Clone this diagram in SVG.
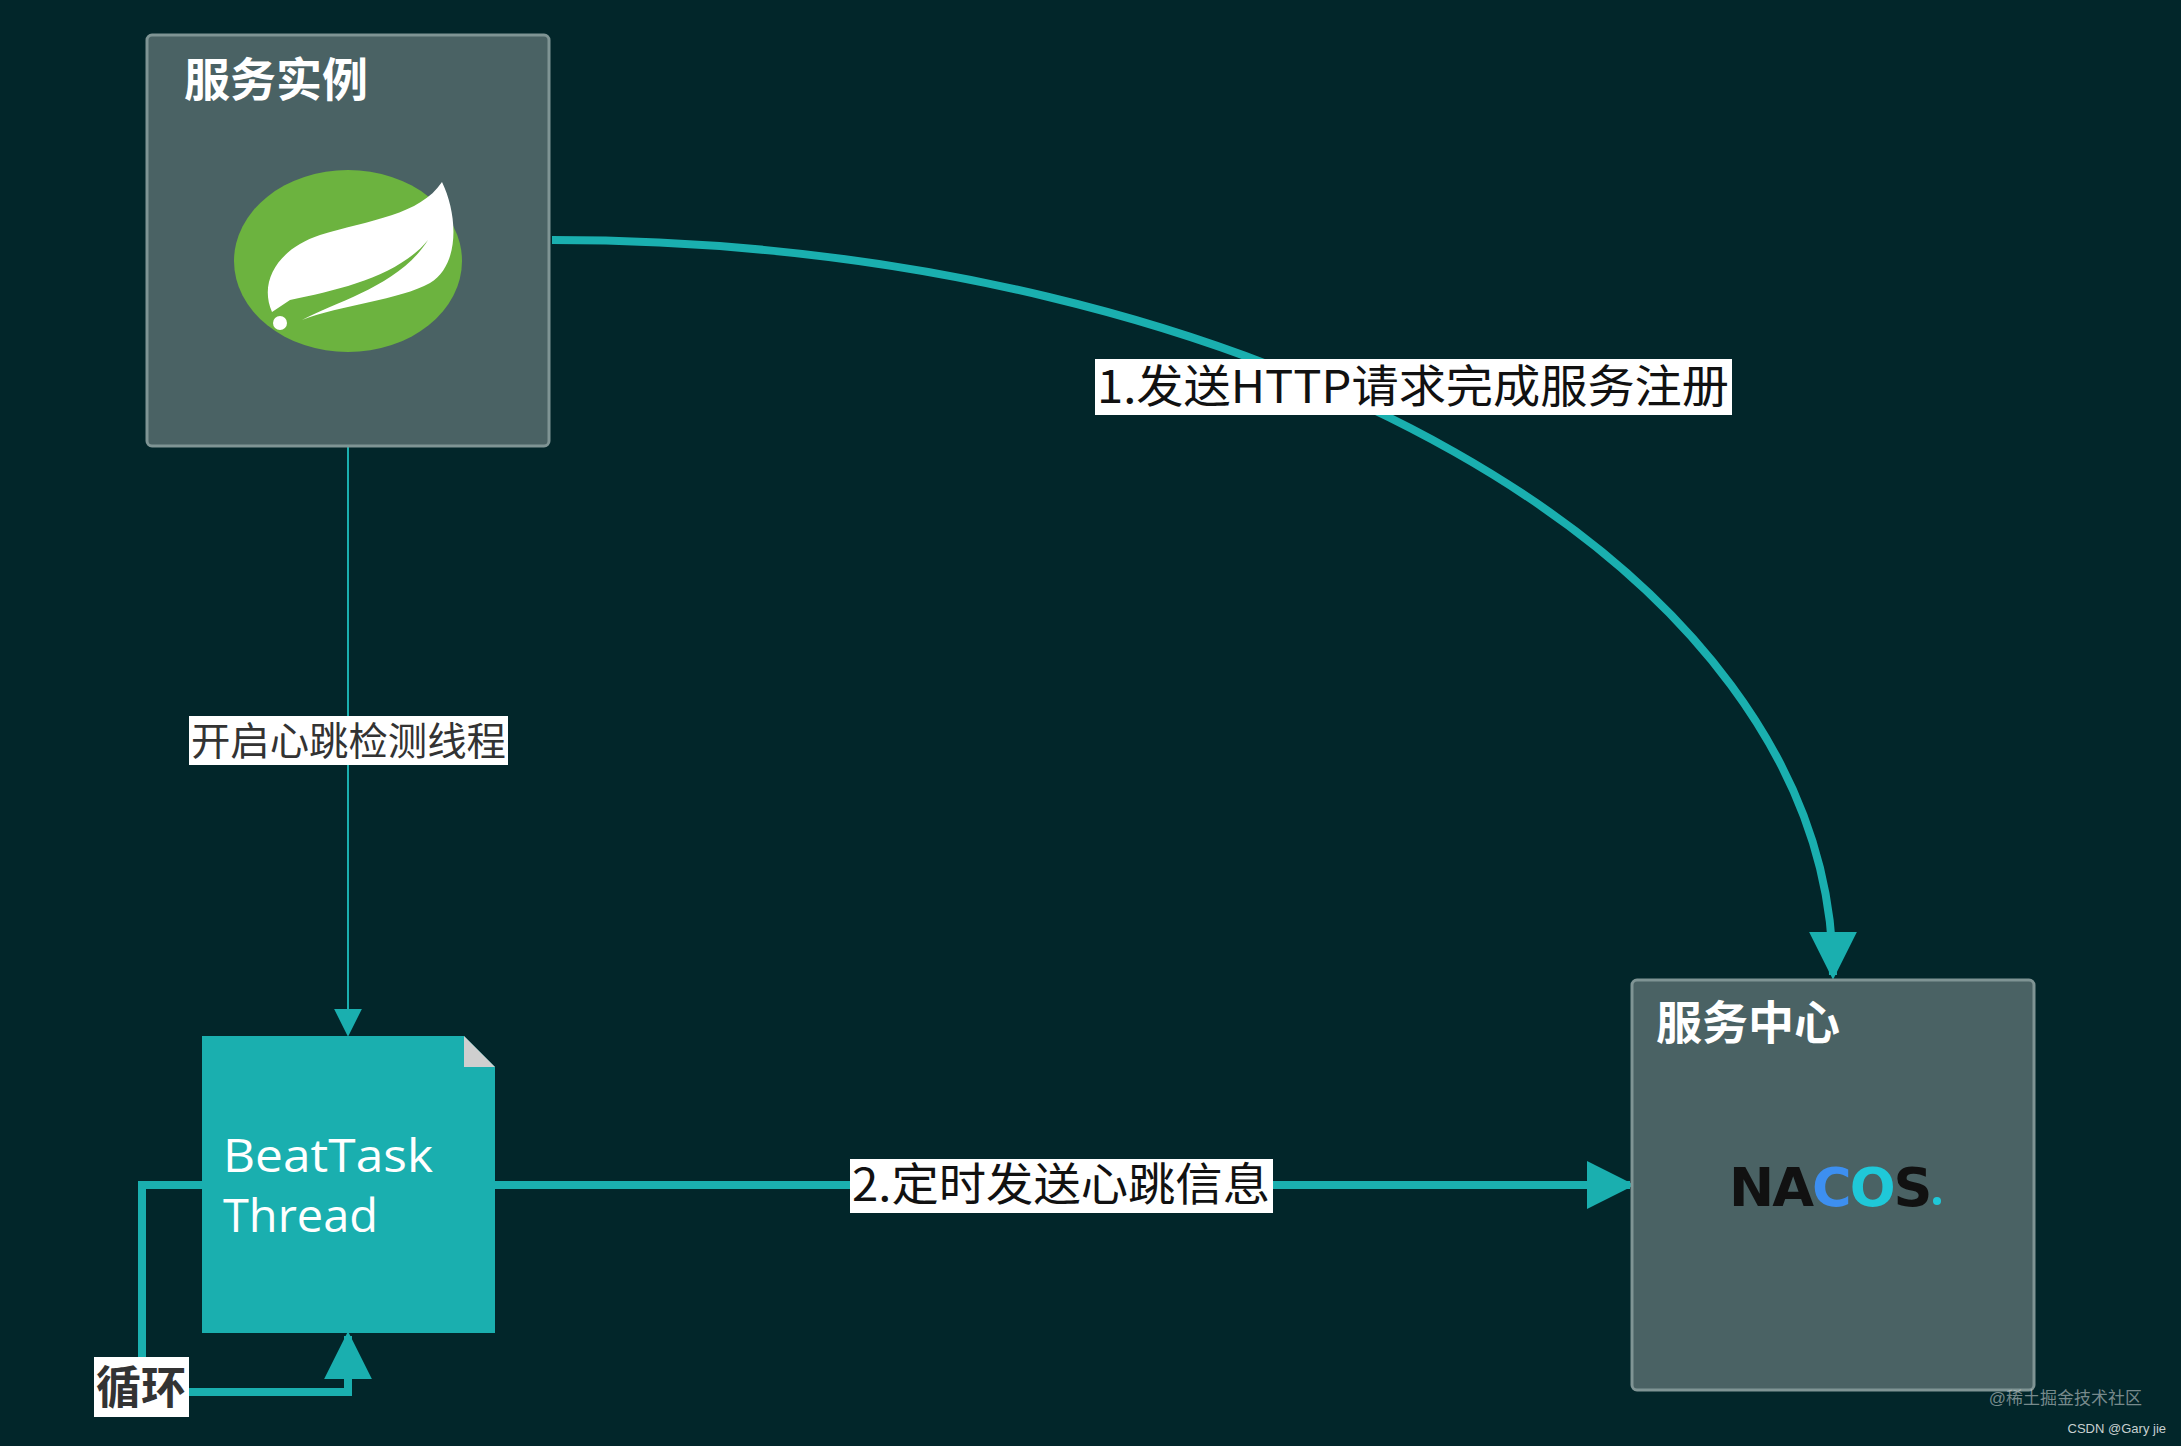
<svg xmlns="http://www.w3.org/2000/svg" width="2181" height="1446" viewBox="0 0 2181 1446">
<style>
.box{fill:#4a6264;stroke:#7f9494;stroke-width:3}
.title{font-family:"Noto Sans CJK SC",sans-serif;font-size:46px;font-weight:bold;fill:#fff}
.lbl{font-family:"Noto Sans CJK SC",sans-serif;font-size:42px;fill:#222}
.conn{fill:none;stroke:#1aafaf}
.small{font-family:"Liberation Sans","Noto Sans CJK SC",sans-serif;fill:#c8d0d0}
</style>
<defs>
<marker id="ah" viewBox="0 0 10 10" refX="9" refY="5" markerWidth="6" markerHeight="6" markerUnits="strokeWidth" orient="auto"><path d="M0,0L10,5L0,10z" fill="#1aafaf"/></marker>
<marker id="ah2" viewBox="0 0 10 10" refX="9" refY="5" markerWidth="14" markerHeight="14" markerUnits="strokeWidth" orient="auto"><path d="M0,0L10,5L0,10z" fill="#1aafaf"/></marker>
</defs>
<rect width="2181" height="1446" fill="#02262a"/>
<g id="connectors">
<path class="conn" d="M552,240 C1250,240 1833,560 1833,975" stroke-width="8" marker-end="url(#ah)"/>
<line class="conn" x1="348" y1="446" x2="348" y2="1034" stroke-width="2" marker-end="url(#ah2)"/>
<line class="conn" x1="495" y1="1185" x2="1630" y2="1185" stroke-width="8" marker-end="url(#ah)"/>
<path class="conn" d="M202,1185 H142 V1392 H348 V1336" stroke-width="8" marker-end="url(#ah)"/>
<rect x="1095" y="359" width="637" height="56" fill="#fff"/>
<text class="lbl" x="1097" y="403" textLength="632" lengthAdjust="spacingAndGlyphs" style="font-size:45px;fill:#111">1.发送HTTP请求完成服务注册</text>
<rect x="189" y="716" width="319" height="49" fill="#fff"/>
<text class="lbl" x="191" y="755" textLength="315" lengthAdjust="spacingAndGlyphs" style="font-size:39px;fill:#333">开启心跳检测线程</text>
<rect x="850" y="1159" width="423" height="54" fill="#fff"/>
<text class="lbl" x="852" y="1201" textLength="418" lengthAdjust="spacingAndGlyphs" style="font-size:45px;fill:#111">2.定时发送心跳信息</text>
<rect x="94" y="1357" width="95" height="60" fill="#fff"/>
<text class="lbl" x="96" y="1404" style="font-size:45px;font-weight:bold;fill:#333">循环</text>
</g>
<g id="service-instance">
<rect class="box" x="147" y="35" width="402" height="411" rx="5"/>
<text class="title" x="184" y="96">服务实例</text>
<ellipse cx="348" cy="261" rx="114" ry="91" fill="#6cb33f"/>
<path d="M272,312 C258,280 280,248 320,235 C370,220 420,215 442,182 C458,215 460,265 430,283 C400,300 340,305 302,320 C340,300 400,285 428,240 C400,275 340,290 290,300 Z" fill="#fff"/>
<circle cx="280" cy="323" r="7" fill="#fff"/>
</g>
<g id="beattask">
<path d="M202,1036 H464 L495,1067 V1333 H202 Z" fill="#1aafaf"/>
<path d="M464,1036 L495,1067 H464 Z" fill="#cfcfcf"/>
<text x="223" y="1172" font-family="'Open Sans',sans-serif" font-size="45" fill="#fff" textLength="210" lengthAdjust="spacingAndGlyphs">BeatTask</text>
<text x="223" y="1232" font-family="'Open Sans',sans-serif" font-size="45" fill="#fff" textLength="155" lengthAdjust="spacingAndGlyphs">Thread</text>
</g>
<g id="service-center">
<rect class="box" x="1632" y="980" width="402" height="410" rx="5"/>
<text class="title" x="1656" y="1039">服务中心</text>
<text x="1729" y="1206" font-family="'DejaVu Sans',sans-serif" font-weight="bold" font-size="54" letter-spacing="-2"><tspan fill="#111">NA</tspan><tspan fill="#3d8ff0">C</tspan><tspan fill="#1fc8d8">O</tspan><tspan fill="#111">S</tspan></text>
<circle cx="1937" cy="1201" r="4" fill="#1fc8d8"/>
</g>
<text class="small" x="2142" y="1404" font-size="17" text-anchor="end" fill-opacity="0.6">@稀土掘金技术社区</text>
<text class="small" x="2166" y="1433" font-size="13" text-anchor="end" fill="#fff">CSDN @Gary jie</text>
</svg>
